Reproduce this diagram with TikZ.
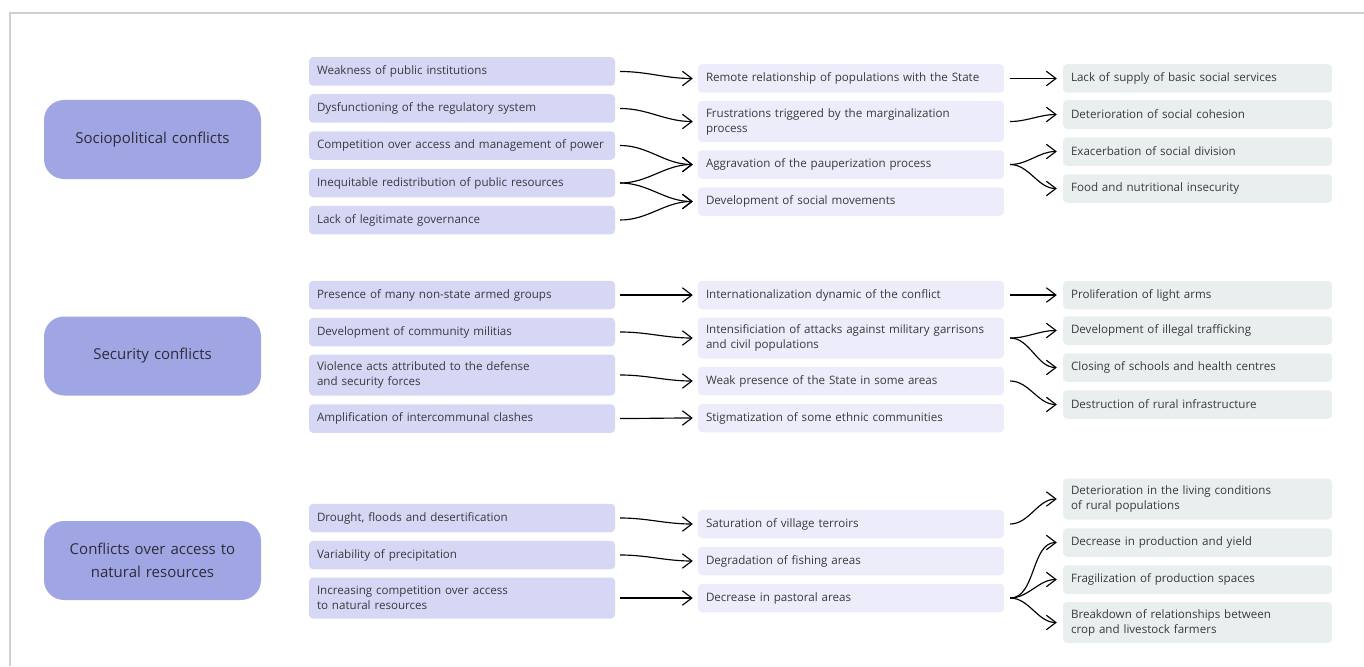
\documentclass[tikz,border=0pt]{standalone}
\usepackage{fontspec}
\setmainfont{Open Sans}
\usetikzlibrary{arrows.meta}

\begin{document}
\begin{tikzpicture}[x=1pt,y=-1pt,
	conflict/.style={fill=custcol_a0_a6_e4, rounded corners=20pt, minimum width=217pt, minimum height=79pt, text width=205pt, align=center, inner sep=0pt, text=custcol_33_33_33, font=\fontsize{15pt}{23.5pt}\selectfont},
	box/.style={rounded corners=4pt, minimum height=28.5pt, inner xsep=8pt, inner ysep=0pt, align=left, text=custcol_3a_3a_3a, font=\fontsize{11.6pt}{15pt}\selectfont},
	cause/.style={box, fill=custcol_d5_d7_f5, minimum width=306pt, text width=290pt},
	effect/.style={box, fill=custcol_ec_ec_fa, minimum width=306pt, text width=290pt},
	impact/.style={box, fill=custcol_e9_ee_ee, minimum width=269pt, text width=253pt},
	tall/.style={minimum height=41pt},
	link/.style={-{Straight Barb[length=9.5pt,width=14.5pt]}, line width=1.15pt, black, shorten <=5pt, shorten >=5pt, out=0, in=180},
	linkb/.style={link, shorten <=6pt, shorten >=6pt}]
	\definecolor{custcol_a0_a6_e4}{RGB}{160, 166, 228}
	\definecolor{custcol_d5_d7_f5}{RGB}{213, 215, 245}
	\definecolor{custcol_ec_ec_fa}{RGB}{236, 236, 250}
	\definecolor{custcol_e9_ee_ee}{RGB}{233, 238, 238}
	\definecolor{custcol_33_33_33}{RGB}{45, 45, 55}
	\definecolor{custcol_3a_3a_3a}{RGB}{58, 58, 62}
	\definecolor{custcol_d0_d0_d0}{RGB}{208, 208, 208}
	\useasboundingbox (0,0) rectangle (1364,666);
	\draw [line width=1.5pt, custcol_d0_d0_d0] (10,666) -- (10,13) -- (1364,13);

	% sociopolitical conflicts
	\node [conflict] (socio) at (152.5,139.5) {Sociopolitical conflicts};
	\node [cause] (weak) at (462,71.5) {Weakness of public institutions};
	\node [cause] (dysf) at (462,108.5) {Dysfunctioning of the regulatory system};
	\node [cause] (compet) at (462,145.5) {Competition over access and management of power};
	\node [cause] (inequit) at (462,183) {Inequitable redistribution of public resources};
	\node [cause] (legit) at (462,220) {Lack of legitimate governance};
	\node [effect] (remote) at (851,78.5) {Remote relationship of populations with the State};
	\node [effect, tall] (frustr) at (851,121.5) {Frustrations triggered by the marginalization\\process};
	\node [effect] (aggrav) at (851,164.5) {Aggravation of the pauperization process};
	\node [effect] (movem) at (851,201.5) {Development of social movements};
	\node [impact] (supply) at (1197.5,78.5) {Lack of supply of basic social services};
	\node [impact] (cohes) at (1197.5,114.5) {Deterioration of social cohesion};
	\node [impact] (divis) at (1197.5,151.5) {Exacerbation of social division};
	\node [impact] (food) at (1197.5,188.5) {Food and nutritional insecurity};
	\draw [link] (weak.east) to (remote.west);
	\draw [link] (dysf.east) to (frustr.west);
	\draw [link] (compet.east) to (aggrav.west);
	\draw [link] (inequit.east) to (aggrav.west);
	\draw [link] (inequit.east) to (movem.west);
	\draw [link] (legit.east) to (movem.west);
	\draw [linkb] (remote.east) to (supply.west);
	\draw [linkb] (frustr.east) to (cohes.west);
	\draw [linkb] (aggrav.east) to (divis.west);
	\draw [linkb] (aggrav.east) to (food.west);

	% security conflicts
	\node [conflict] (secur) at (152.5,356) {Security conflicts};
	\node [cause] (armed) at (462,295) {Presence of many non-state armed groups};
	\node [cause] (milit) at (462,332) {Development of community militias};
	\node [cause, tall] (viol) at (462,375) {Violence acts attributed to the defense\\and security forces};
	\node [cause] (clash) at (462,418.5) {Amplification of intercommunal clashes};
	\node [effect] (intern) at (851,295) {Internationalization dynamic of the conflict};
	\node [effect, tall] (attack) at (851,338) {Intensificiation of attacks against military garrisons\\and civil populations};
	\node [effect] (weakst) at (851,381) {Weak presence of the State in some areas};
	\node [effect] (stigma) at (851,418) {Stigmatization of some ethnic communities};
	\node [impact] (arms) at (1197.5,295) {Proliferation of light arms};
	\node [impact] (traff) at (1197.5,330.5) {Development of illegal trafficking};
	\node [impact] (school) at (1197.5,367.5) {Closing of schools and health centres};
	\node [impact] (infra) at (1197.5,404.5) {Destruction of rural infrastructure};
	\draw [link] (armed.east) to (intern.west);
	\draw [link] (milit.east) to (attack.west);
	\draw [link] (viol.east) to (weakst.west);
	\draw [link] (clash.east) to (stigma.west);
	\draw [linkb] (intern.east) to (arms.west);
	\draw [linkb] (attack.east) to (traff.west);
	\draw [linkb] (attack.east) to (school.west);
	\draw [linkb] (weakst.east) to (infra.west);

	% conflicts over natural resources
	\node [conflict] (natres) at (152.5,560.5) {Conflicts over access to\\natural resources};
	\node [cause] (drought) at (462,518) {Drought, floods and desertification};
	\node [cause] (precip) at (462,555) {Variability of precipitation};
	\node [cause, tall] (compres) at (462,598) {Increasing competition over access\\to natural resources};
	\node [effect] (terroir) at (851,524) {Saturation of village terroirs};
	\node [effect] (fishing) at (851,561) {Degradation of fishing areas};
	\node [effect] (pastor) at (851,598) {Decrease in pastoral areas};
	\node [impact, tall] (living) at (1197.5,499) {Deterioration in the living conditions\\of rural populations};
	\node [impact] (yield) at (1197.5,542.5) {Decrease in production and yield};
	\node [impact] (fragil) at (1197.5,579.5) {Fragilization of production spaces};
	\node [impact, tall] (breakd) at (1197.5,622.5) {Breakdown of relationships between\\crop and livestock farmers};
	\draw [link] (drought.east) to (terroir.west);
	\draw [link] (precip.east) to (fishing.west);
	\draw [link] (compres.east) to (pastor.west);
	\draw [linkb] (terroir.east) to (living.west);
	\draw [linkb] (pastor.east) to (yield.west);
	\draw [linkb] (pastor.east) to (fragil.west);
	\draw [linkb] (pastor.east) to (breakd.west);
\end{tikzpicture}
\end{document}
